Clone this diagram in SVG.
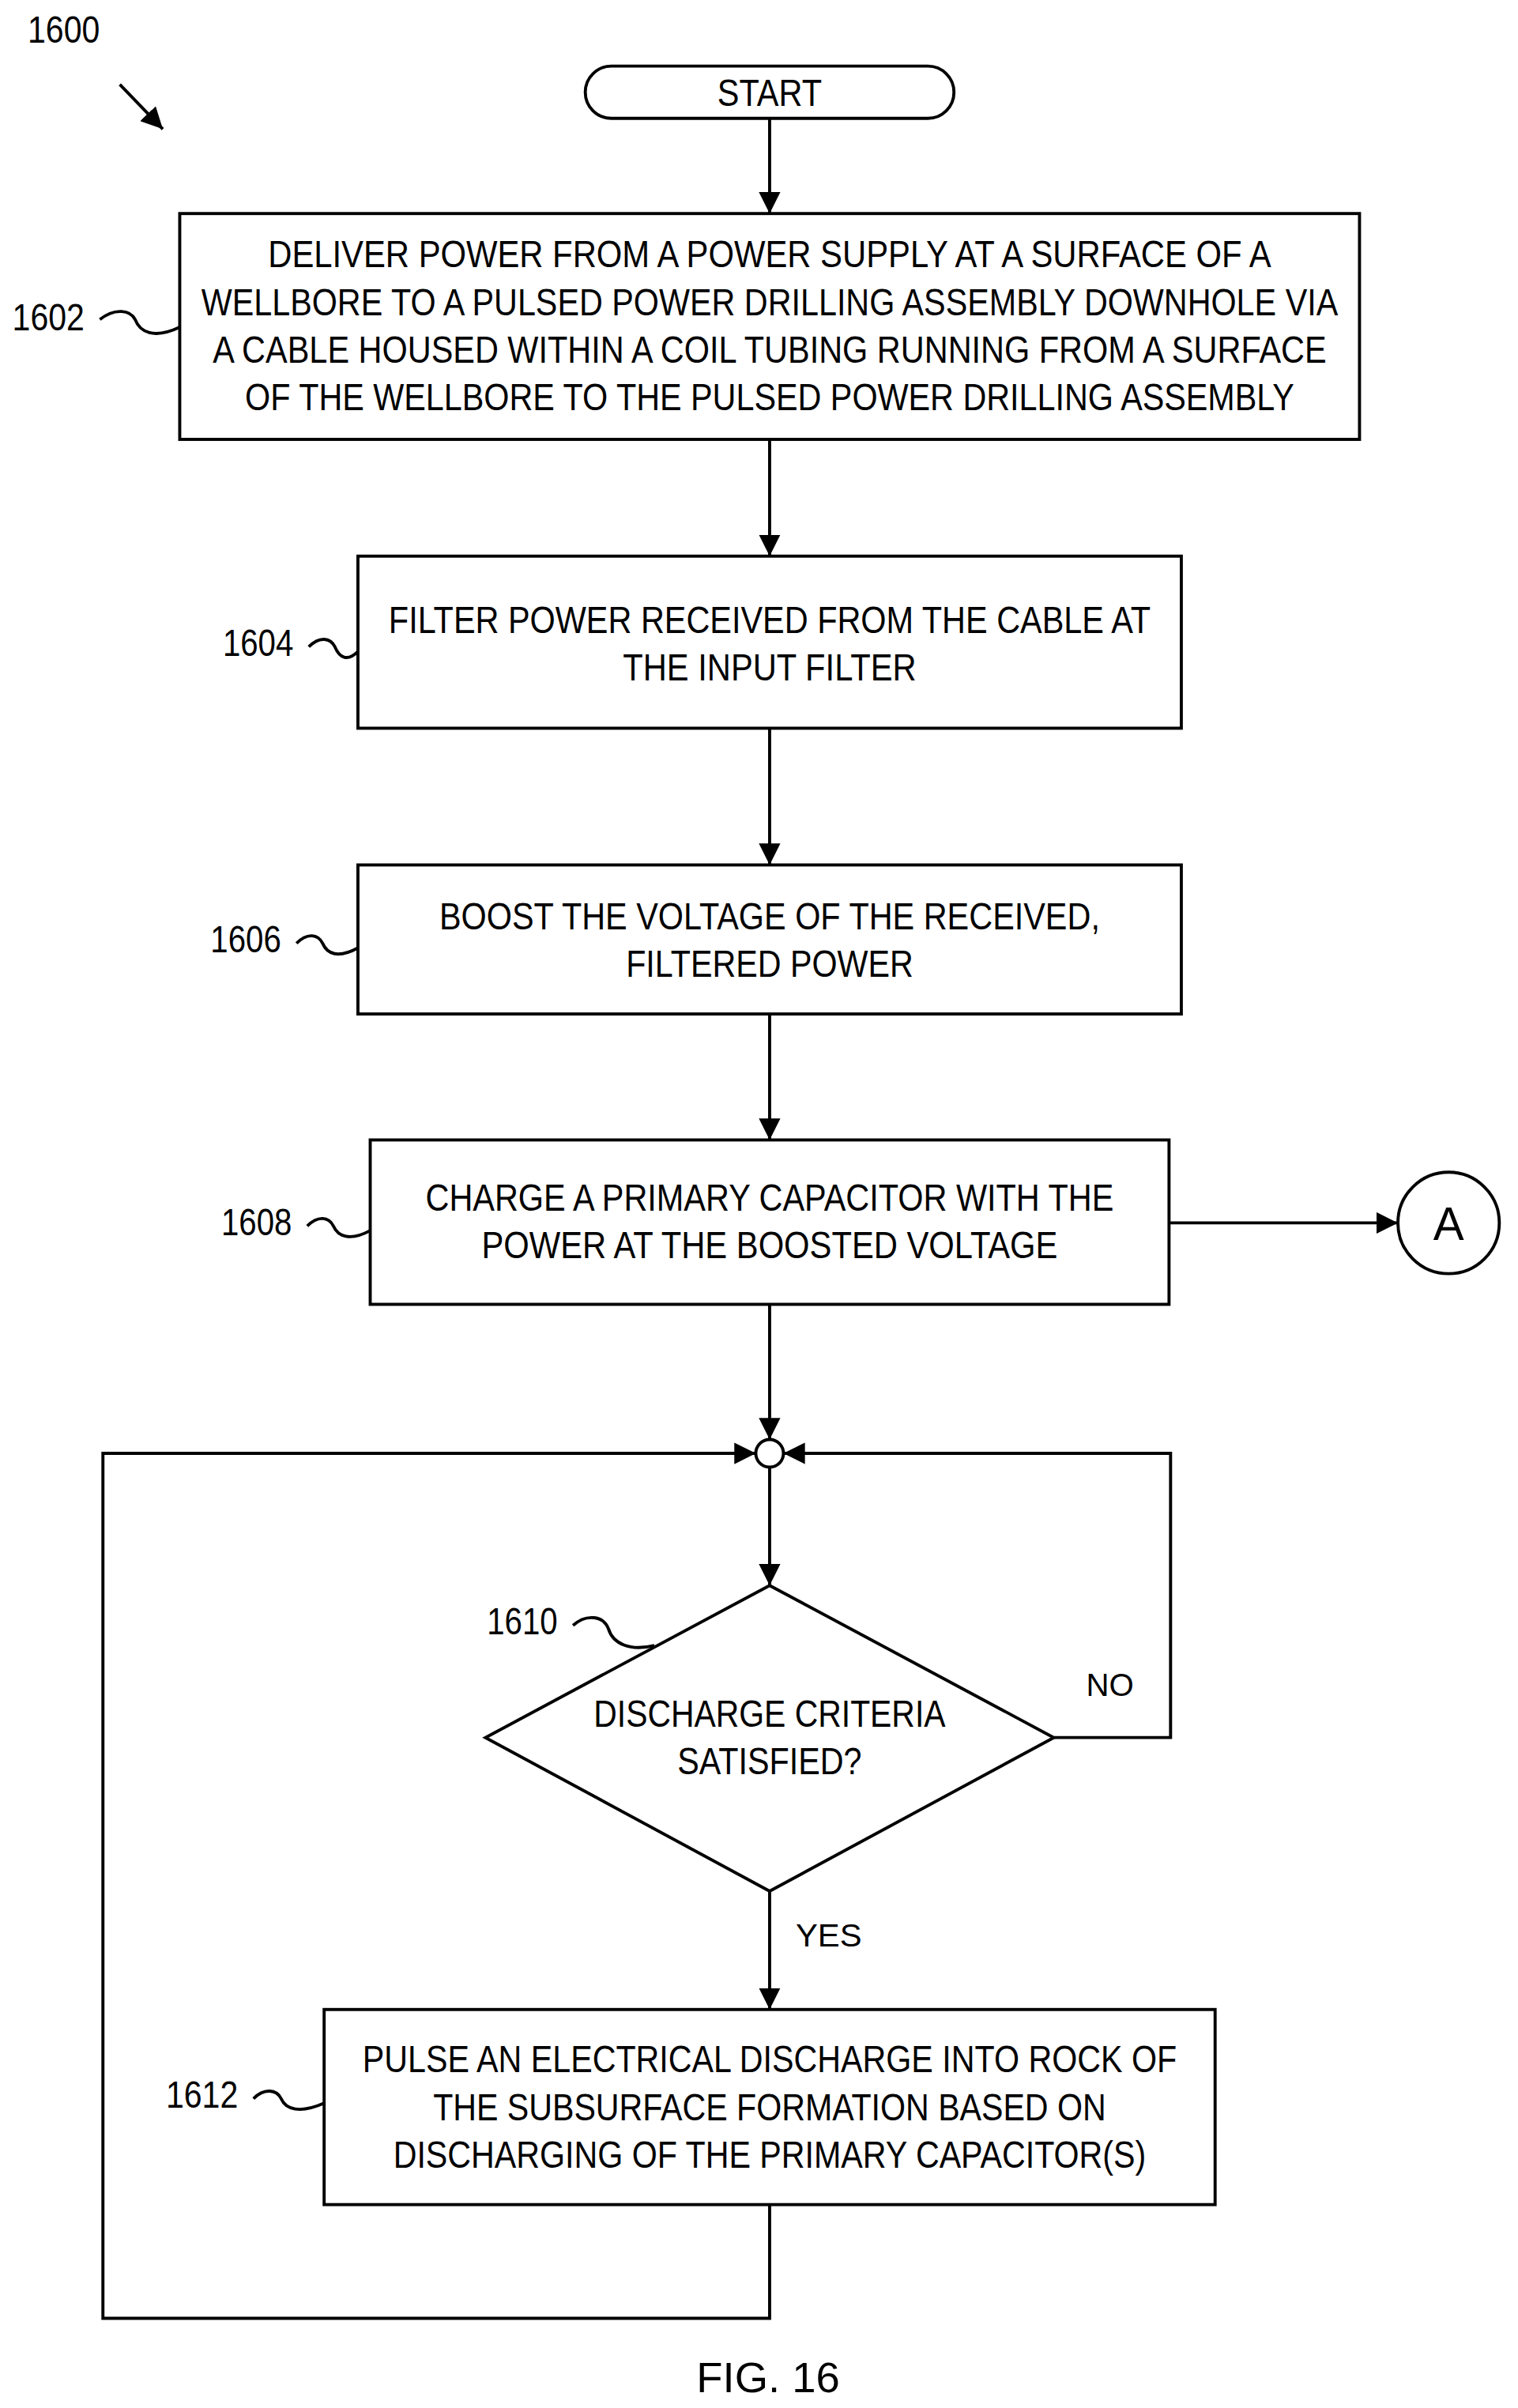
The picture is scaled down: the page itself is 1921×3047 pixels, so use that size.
<svg xmlns="http://www.w3.org/2000/svg" width="1921" height="3047" viewBox="0 0 1921 3047">
<defs>
<marker id="ah" viewBox="0 0 10 10" refX="10" refY="5" markerWidth="14" markerHeight="14" markerUnits="userSpaceOnUse" orient="auto"><path d="M0,0 L10,5 L0,10 z" fill="#000"/></marker>
</defs>
<style>
.b{fill:#fff;stroke:#000;stroke-width:2}
.t{font-family:"Liberation Sans",Arial,sans-serif;font-size:25px;text-anchor:middle;fill:#000}
.l{font-family:"Liberation Sans",Arial,sans-serif;font-size:25px;fill:#000}
.c{fill:none;stroke:#000;stroke-width:2}
.sq{fill:none;stroke:#000;stroke-width:2}
</style>
<rect width="1921" height="3047" fill="#fff"/>
<g transform="scale(1.944)">
<g id="label1600"><text class="l" x="18" y="28" textLength="47" lengthAdjust="spacingAndGlyphs">1600</text><path class="c" d="M78,55 L106,84" marker-end="url(#ah)"/></g>
<g id="start"><rect class="b" x="381" y="43" width="240" height="34" rx="17"/><text class="t" x="501" y="69" textLength="68" lengthAdjust="spacingAndGlyphs">START</text></g>
<g id="n1602"><rect class="b" x="117" y="139" width="768" height="147"/>
<text class="t" x="501" y="174" textLength="653" lengthAdjust="spacingAndGlyphs">DELIVER POWER FROM A POWER SUPPLY AT A SURFACE OF A</text>
<text class="t" x="501" y="205" textLength="740" lengthAdjust="spacingAndGlyphs">WELLBORE TO A PULSED POWER DRILLING ASSEMBLY DOWNHOLE VIA</text>
<text class="t" x="501" y="236" textLength="725" lengthAdjust="spacingAndGlyphs">A CABLE HOUSED WITHIN A COIL TUBING RUNNING FROM A SURFACE</text>
<text class="t" x="501" y="267" textLength="683" lengthAdjust="spacingAndGlyphs">OF THE WELLBORE TO THE PULSED POWER DRILLING ASSEMBLY</text>
<text class="l" x="8" y="215" textLength="47" lengthAdjust="spacingAndGlyphs">1602</text><path class="sq" d="M65,208 C75,200 85,202 88,208 C91,216 100,221 117,213"/></g>
<g id="n1604"><rect class="b" x="233" y="362" width="536" height="112"/>
<text class="t" x="501" y="412" textLength="496" lengthAdjust="spacingAndGlyphs">FILTER POWER RECEIVED FROM THE CABLE AT</text>
<text class="t" x="501" y="443" textLength="191" lengthAdjust="spacingAndGlyphs">THE INPUT FILTER</text>
<text class="l" x="145" y="427" textLength="46" lengthAdjust="spacingAndGlyphs">1604</text><path class="sq" d="M201,421 C208,414 215,415 218,421 C221,428 226,431 233,424"/></g>
<g id="n1606"><rect class="b" x="233" y="563" width="536" height="97"/>
<text class="t" x="501" y="605" textLength="430" lengthAdjust="spacingAndGlyphs">BOOST THE VOLTAGE OF THE RECEIVED,</text>
<text class="t" x="501" y="636" textLength="187" lengthAdjust="spacingAndGlyphs">FILTERED POWER</text>
<text class="l" x="137" y="620" textLength="46" lengthAdjust="spacingAndGlyphs">1606</text><path class="sq" d="M193,614 C200,607 207,608 210,614 C213,621 220,624 233,617"/></g>
<g id="n1608"><rect class="b" x="241" y="742" width="520" height="107"/>
<text class="t" x="501" y="788" textLength="448" lengthAdjust="spacingAndGlyphs">CHARGE A PRIMARY CAPACITOR WITH THE</text>
<text class="t" x="501" y="819" textLength="375" lengthAdjust="spacingAndGlyphs">POWER AT THE BOOSTED VOLTAGE</text>
<text class="l" x="144" y="804" textLength="46" lengthAdjust="spacingAndGlyphs">1608</text><path class="sq" d="M200,798 C207,791 214,792 217,798 C220,805 228,808 241,801"/></g>
<g id="connA"><circle class="b" cx="943" cy="796" r="33"/><text class="t" x="943" y="807" style="font-size:30px">A</text></g>
<g id="merge"><circle class="b" cx="501" cy="946" r="9"/></g>
<g id="n1610"><path class="b" d="M501,1032 L686,1131 L501,1231 L316,1131 z"/>
<text class="t" x="501" y="1124" textLength="229" lengthAdjust="spacingAndGlyphs">DISCHARGE CRITERIA</text>
<text class="t" x="501" y="1155" textLength="120" lengthAdjust="spacingAndGlyphs">SATISFIED?</text>
<text class="l" x="317" y="1064" textLength="46" lengthAdjust="spacingAndGlyphs">1610</text><path class="sq" d="M373,1058 C382,1050 393,1052 396,1060 C399,1070 410,1075 426,1071"/></g>
<g id="n1612"><rect class="b" x="211" y="1308" width="580" height="127"/>
<text class="t" x="501" y="1349" textLength="530" lengthAdjust="spacingAndGlyphs">PULSE AN ELECTRICAL DISCHARGE INTO ROCK OF</text>
<text class="t" x="501" y="1380" textLength="438" lengthAdjust="spacingAndGlyphs">THE SUBSURFACE FORMATION BASED ON</text>
<text class="t" x="501" y="1411" textLength="490" lengthAdjust="spacingAndGlyphs">DISCHARGING OF THE PRIMARY CAPACITOR(S)</text>
<text class="l" x="108" y="1372" textLength="47" lengthAdjust="spacingAndGlyphs">1612</text><path class="sq" d="M165,1366 C172,1359 180,1360 183,1366 C186,1373 195,1376 211,1369"/></g>
<g id="connectors">
<path class="c" d="M501,77 L501,139" marker-end="url(#ah)"/>
<path class="c" d="M501,286 L501,362" marker-end="url(#ah)"/>
<path class="c" d="M501,474 L501,563" marker-end="url(#ah)"/>
<path class="c" d="M501,660 L501,742" marker-end="url(#ah)"/>
<path class="c" d="M761,796 L910,796" marker-end="url(#ah)"/>
<path class="c" d="M501,849 L501,937" marker-end="url(#ah)"/>
<path class="c" d="M501,955 L501,1032" marker-end="url(#ah)"/>
<path class="c" d="M686,1131 L762,1131 L762,946 L510,946" marker-end="url(#ah)"/>
<path class="c" d="M501,1231 L501,1308" marker-end="url(#ah)"/>
<path class="c" d="M501,1435 L501,1509 L67,1509 L67,946 L492,946" marker-end="url(#ah)"/>
<text class="l" x="707" y="1104" textLength="31" lengthAdjust="spacingAndGlyphs" style="font-size:21px">NO</text>
<text class="l" x="518" y="1267" textLength="43" lengthAdjust="spacingAndGlyphs" style="font-size:21px">YES</text>
</g>
<text class="t" x="500" y="1557" style="font-size:28px">FIG. 16</text>
</g>
</svg>
